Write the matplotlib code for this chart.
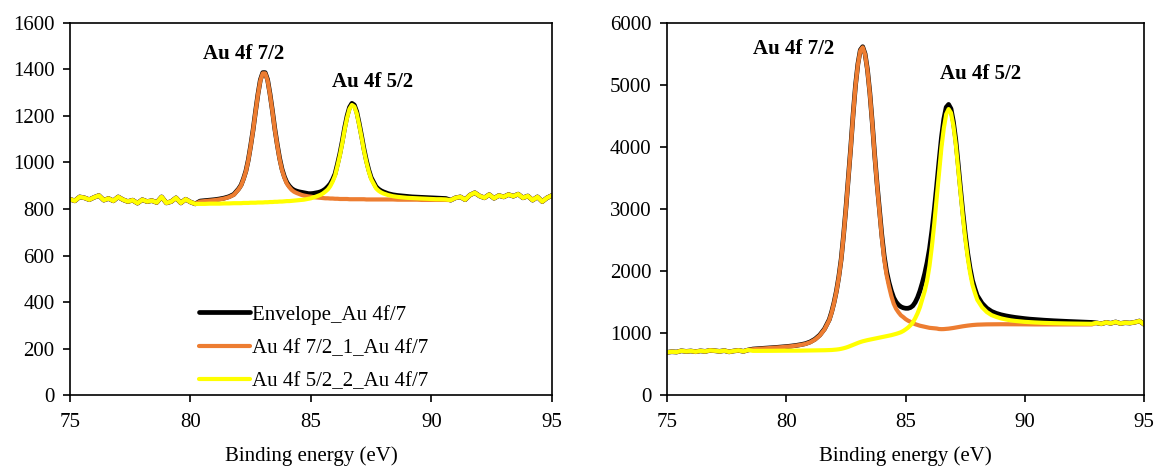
import numpy as np
import matplotlib
matplotlib.use("Agg")
import matplotlib.pyplot as plt

plt.rcParams['font.family'] = ['Liberation Serif', 'DejaVu Serif']
plt.rcParams['mathtext.fontset'] = 'stix'

# Binding energy grid (eV): 0.2 eV steps on the wings, 0.1 eV steps across the peaks
energy = np.round(np.concatenate([np.arange(75.0, 81.81, 0.2),
                                  np.arange(81.9, 87.91, 0.1),
                                  np.arange(88.0, 95.01, 0.2)]), 2)

series_labels = ["Envelope_Au 4f/7", "Au 4f 7/2_1_Au 4f/7", "Au 4f 5/2_2_Au 4f/7"]

# ---------------- Left panel ----------------
left_envelope = [
    842, 835, 852, 848, 840, 850, 858, 838, 845, 835, 852, 840, 832, 838, 825, 840, 832, 836, 828, 852,
    826, 832, 848, 826, 842, 830, 822, 834, 836, 838, 840, 843, 847, 853, 863,
    875, 887, 903, 930, 963, 1011, 1073, 1141, 1219, 1293, 1355, 1386,
    1386, 1356, 1295, 1223, 1145, 1078, 1018, 971, 938, 914,
    899, 888, 881, 877, 874, 872, 870, 868, 866, 866,
    867, 869, 871, 874, 879, 886, 896, 908, 927, 951,
    993, 1038, 1091, 1150, 1200, 1237, 1254, 1247, 1218, 1169,
    1115, 1058, 1009, 968, 935, 915, 896, 886, 879,
    874, 866, 861, 858, 856, 854, 852, 851, 850, 849, 848, 847, 846, 845, 838,
    848, 852, 840, 860, 870, 856, 848, 862, 846, 858, 852, 862, 855, 864, 848, 856, 838, 852, 832, 848, 858]
left_au72 = [
    842, 835, 852, 848, 840, 850, 858, 838, 845, 835, 852, 840, 832, 838, 825, 840, 832, 836, 828, 852,
    826, 832, 848, 826, 842, 830, 822, 832, 834, 836, 838, 841, 845, 851, 861,
    873, 885, 901, 928, 961, 1009, 1071, 1139, 1217, 1291, 1352, 1383,
    1383, 1353, 1292, 1220, 1142, 1075, 1014, 967, 934, 909,
    894, 882, 874, 869, 865, 861, 858, 856, 854, 853,
    851, 850, 849, 848, 847, 846, 846, 845, 845, 844,
    844, 843, 843, 843, 843, 842, 842, 842, 842, 842,
    842, 842, 841, 841, 841, 841, 841, 841, 841,
    841, 841, 841, 840, 840, 840, 840, 840, 839, 839, 839, 839, 839, 839, 838,
    848, 852, 840, 860, 870, 856, 848, 862, 846, 858, 852, 862, 855, 864, 848, 856, 838, 852, 832, 848, 858]
left_au52 = [
    842, 835, 852, 848, 840, 850, 858, 838, 845, 835, 852, 840, 832, 838, 825, 840, 832, 836, 828, 852,
    826, 832, 848, 826, 842, 830, 822, 822, 822, 823, 823, 823, 824, 824, 825,
    825, 825, 825, 826, 826, 826, 827, 827, 827, 828, 828, 828,
    829, 829, 830, 830, 831, 831, 832, 832, 833, 834,
    834, 835, 836, 837, 838, 839, 840, 842, 844, 846,
    850, 853, 857, 861, 867, 875, 884, 898, 918, 943,
    985, 1030, 1083, 1142, 1192, 1230, 1247, 1240, 1211, 1162,
    1108, 1051, 1002, 961, 928, 908, 889, 879, 872,
    867, 860, 855, 852, 850, 848, 847, 846, 845, 844, 843, 842, 842, 841, 838,
    848, 852, 840, 860, 870, 856, 848, 862, 846, 858, 852, 862, 855, 864, 848, 856, 838, 852, 832, 848, 858]

# ---------------- Right panel ----------------
right_envelope = [
    690, 700, 695, 715, 705, 712, 700, 714, 705, 722, 716, 706, 718, 698, 712, 722, 706, 728,
    743, 749, 754, 759, 764, 770, 776, 783, 791, 801, 814, 830, 858, 902, 968, 1068, 1218,
    1342, 1495, 1680, 1911, 2196, 2587, 3025, 3512, 3999, 4535, 4998, 5340,
    5562, 5615, 5500, 5245, 4870, 4400, 3880, 3415, 3000, 2585,
    2245, 1995, 1820, 1680, 1570, 1500, 1455, 1425, 1408, 1400,
    1400, 1412, 1440, 1495, 1575, 1680, 1810, 1960, 2140, 2360,
    2650, 2990, 3370, 3770, 4150, 4450, 4640, 4685, 4615, 4410,
    4115, 3730, 3325, 2940, 2590, 2290, 2045, 1850, 1720,
    1605, 1482, 1402, 1350, 1318, 1295, 1278, 1264, 1252, 1242, 1233, 1225, 1219, 1213, 1208,
    1203, 1199, 1195, 1191, 1188, 1185, 1182, 1179, 1176, 1172,
    1165, 1150, 1172, 1158, 1180, 1155, 1168, 1162, 1175, 1195, 1140]
right_au72 = [
    690, 700, 695, 715, 705, 712, 700, 714, 705, 722, 716, 706, 718, 698, 712, 722, 706, 728,
    740, 746, 751, 756, 761, 767, 773, 780, 788, 798, 810, 825, 852, 895, 960, 1060, 1210,
    1332, 1485, 1670, 1901, 2186, 2577, 3015, 3502, 3989, 4525, 4988, 5330,
    5552, 5605, 5490, 5234, 4859, 4387, 3867, 3395, 2971, 2547,
    2196, 1940, 1758, 1599, 1474, 1392, 1335, 1287, 1258, 1225,
    1201, 1182, 1161, 1144, 1131, 1119, 1110, 1102, 1094, 1085,
    1081, 1078, 1074, 1066, 1064, 1065, 1068, 1072, 1077, 1083,
    1090, 1097, 1104, 1110, 1116, 1121, 1126, 1130, 1133,
    1136, 1139, 1141, 1142, 1143, 1143, 1143, 1143, 1142, 1142, 1141, 1141, 1140, 1140, 1140,
    1140, 1140, 1140, 1140, 1140, 1140, 1140, 1140, 1140, 1140,
    1165, 1150, 1172, 1158, 1180, 1155, 1168, 1162, 1175, 1195, 1140]
right_au52 = [
    690, 700, 695, 715, 705, 712, 700, 714, 705, 722, 716, 706, 718, 698, 712, 722, 706, 728,
    714, 714, 715, 715, 715, 716, 716, 717, 717, 718, 718, 719, 720, 721, 722, 724, 726,
    728, 731, 735, 740, 747, 756, 767, 780, 795, 811, 827, 842,
    856, 868, 878, 887, 895, 903, 910, 918, 926, 934,
    942, 950, 958, 967, 977, 988, 1000, 1014, 1034, 1060,
    1089, 1126, 1171, 1240, 1320, 1420, 1550, 1680, 1850, 2085,
    2398, 2765, 3168, 3588, 3991, 4304, 4529, 4610, 4549, 4344,
    4047, 3660, 3256, 2869, 2518, 2219, 1973, 1780, 1652,
    1538, 1418, 1340, 1290, 1261, 1237, 1220, 1206, 1196, 1188, 1181, 1176, 1172, 1168, 1165,
    1162, 1160, 1158, 1156, 1155, 1154, 1153, 1152, 1151, 1150,
    1165, 1150, 1172, 1158, 1180, 1155, 1168, 1162, 1175, 1195, 1140]

peak_labels = ["Au 4f 7/2", "Au 4f 5/2"]
left_label_pos = [(82.2, 1465), (87.55, 1345)]
right_label_pos = [(80.3, 5580), (88.15, 5180)]

colors = ["#000000", "#ED7D31", "#FFFF00"]
widths = [3.4, 3.0, 3.0]

fig = plt.figure(figsize=(11.57, 4.66), dpi=100)
ax1 = fig.add_axes([0.0605, 0.152, 0.4165, 0.799])
ax2 = fig.add_axes([0.5765, 0.152, 0.4125, 0.799])

FS = 15

def style(ax, ymax, ystep):
    ax.set_xlim(75, 95)
    ax.set_ylim(0, ymax)
    ax.set_xticks(np.arange(75, 96, 5))
    ax.set_yticks(np.arange(0, ymax + 1, ystep))
    ax.tick_params(direction='out', length=5, width=1.2, labelsize=FS, colors='black')
    ax.tick_params(axis='x', pad=8)
    ax.tick_params(axis='y', pad=6)
    for s in ax.spines.values():
        s.set_linewidth(1.2)
        s.set_color('black')
    ax.set_xlabel("Binding energy (eV)", fontsize=FS, labelpad=10)

for ax, ys, labpos in [(ax1, [left_envelope, left_au72, left_au52], left_label_pos),
                       (ax2, [right_envelope, right_au72, right_au52], right_label_pos)]:
    for y, c, w, lab in zip(ys, colors, widths, series_labels):
        ax.plot(energy, y, color=c, lw=w, label=lab, solid_capstyle='round', solid_joinstyle='round')
    for txt, (xx, yy) in zip(peak_labels, labpos):
        ax.text(xx, yy, txt, fontsize=FS, fontweight='bold', ha='center', va='center')

style(ax1, 1600, 200)
style(ax2, 6000, 1000)

leg = ax1.legend(loc='upper left', bbox_to_anchor=(0.268, 0.243), frameon=False, fontsize=FS,
                 handlelength=2.45, handletextpad=0.1, labelspacing=0.66, borderpad=0, borderaxespad=0)

fig.savefig("out.png", dpi=100)
